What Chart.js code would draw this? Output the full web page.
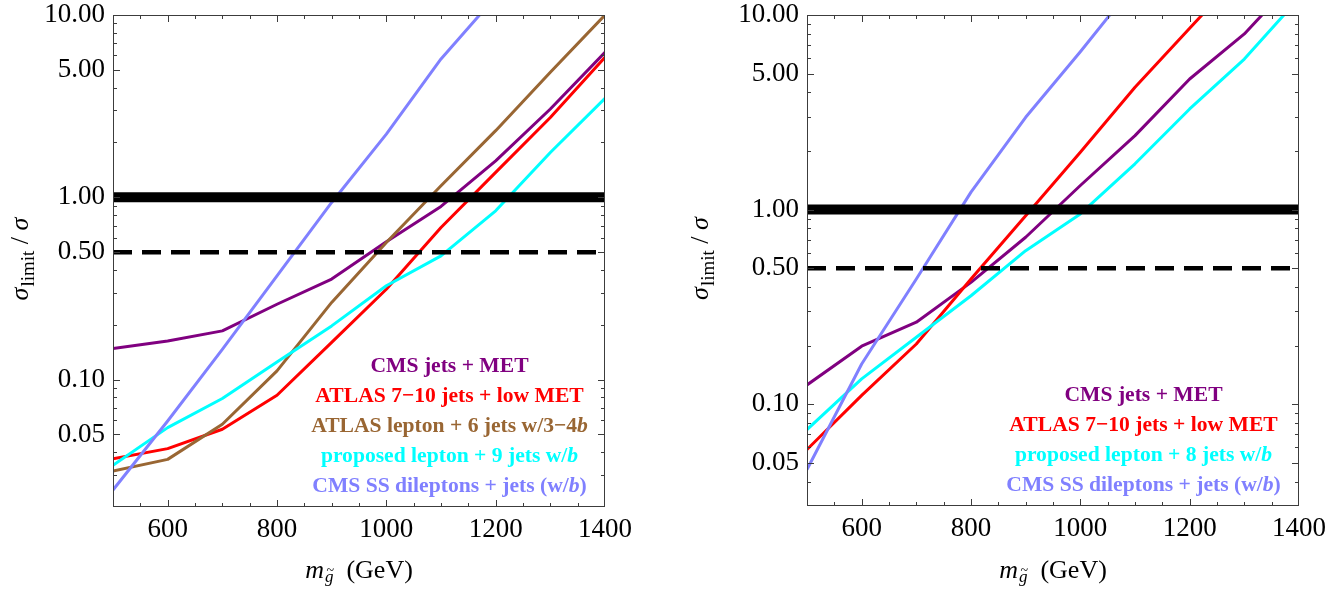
<!DOCTYPE html>
<html><head><meta charset="utf-8">
<script src="https://cdn.jsdelivr.net/npm/chart.js@4.4.1/dist/chart.umd.min.js"></script>
<style>
html,body{margin:0;padding:0;background:#fff;overflow:hidden}
#wrapL{position:absolute;left:0;top:0;width:680px;height:590px}
#wrapR{position:absolute;left:680px;top:0;width:661px;height:590px}
</style></head><body>
<div id="wrapL"><canvas id="cL" width="680" height="590"></canvas></div>
<div id="wrapR"><canvas id="cR" width="661" height="590"></canvas></div>
<script>
// ---------- data ----------
const massGeV = [500, 600, 700, 800, 900, 1000, 1100, 1200, 1300, 1400];

// left panel
const leftCmsJetsMet   = [0.148, 0.163, 0.185, 0.259, 0.356, 0.570, 0.891, 1.585, 3.05, 6.24];
const leftAtlas710     = [0.0368, 0.0418, 0.0534, 0.082, 0.160, 0.313, 0.683, 1.37, 2.74, 5.86];
const leftAtlasLepton  = [0.0315, 0.0365, 0.0569, 0.1116, 0.265, 0.565, 1.156, 2.32, 4.85, 10.0];
const leftProposed9    = [0.0339, 0.0545, 0.0787, 0.125, 0.197, 0.327, 0.477, 0.843, 1.76, 3.49];
const leftCmsSS        = [0.0248, 0.0593, 0.1466, 0.371, 0.937, 2.22, 5.74, 12.6];

// right panel
const rightCmsJetsMet  = [0.1257, 0.1986, 0.264, 0.423, 0.721, 1.33, 2.40, 4.69, 7.99, 16.0];
const rightAtlas710    = [0.0585, 0.111, 0.204, 0.440, 0.931, 1.97, 4.25, 8.54, 17.2];
const rightProposed8   = [0.0741, 0.135, 0.221, 0.361, 0.615, 0.950, 1.72, 3.29, 5.94, 12.2];
const rightCmsSS       = [0.0462, 0.161, 0.44, 1.23, 2.98, 6.48, 14.5];

// reference levels
const solidLevel = 1.0;
const dashedLevel = 0.5;

// axes
const xMin = 500, xMax = 1400;
const xLabelTicks = [600, 800, 1000, 1200, 1400];
const xMinorStep = 50;
const yMax = 10;
const yMinLeft = 0.02, yMinRight = 0.03;
const yLabelTicks = [0.05, 0.1, 0.5, 1, 5, 10];

// legend texts: [text, italic]
const legendLeft = [
  {color: '#800080', parts: [['CMS jets + MET', false]]},
  {color: '#ff0000', parts: [['ATLAS 7\u221210 jets + low MET', false]]},
  {color: '#996633', parts: [['ATLAS lepton + 6 jets w/3\u22124', false], ['b', true]]},
  {color: '#00ffff', parts: [['proposed lepton + 9 jets w/', false], ['b', true]]},
  {color: '#8080ff', parts: [['CMS SS dileptons + jets (w/', false], ['b', true], [')', false]]}
];
const legendRight = [
  {color: '#800080', parts: [['CMS jets + MET', false]]},
  {color: '#ff0000', parts: [['ATLAS 7\u221210 jets + low MET', false]]},
  {color: '#00ffff', parts: [['proposed lepton + 8 jets w/', false], ['b', true]]},
  {color: '#8080ff', parts: [['CMS SS dileptons + jets (w/', false], ['b', true], [')', false]]}
];

const SERIF = '"Liberation Serif", "Times New Roman", serif';

// ---------- plugins ----------
function yMinorValues(minV) {
  const out = [];
  for (let d = -3; d <= 1; d++) {
    for (let m = 1; m <= 9; m++) {
      const v = m * Math.pow(10, d);
      if (v > minV * 1.0001 && v < yMax * 0.9999) out.push(+v.toPrecision(3));
    }
  }
  return out;
}

const framePlugin = {
  id: 'frameTicks',
  afterDatasetsDraw(chart) {
    const {ctx, chartArea: a, scales: {x, y}} = chart;
    ctx.save();
    ctx.strokeStyle = '#3c3c3c';
    ctx.lineWidth = 1;
    ctx.beginPath();
    for (let v = xMin + xMinorStep; v < xMax; v += xMinorStep) {
      const px = Math.round(x.getPixelForValue(v)) + 0.5;
      const len = xLabelTicks.includes(v) ? 7 : 4;
      ctx.moveTo(px, a.bottom); ctx.lineTo(px, a.bottom - len);
      ctx.moveTo(px, a.top); ctx.lineTo(px, a.top + len);
    }
    yMinorValues(y.min).forEach(v => {
      const py = Math.round(y.getPixelForValue(v)) + 0.5;
      const major = yLabelTicks.some(t => Math.abs(t - v) < 1e-9);
      const len = major ? 7 : 4;
      ctx.moveTo(a.left, py); ctx.lineTo(a.left + len, py);
      ctx.moveTo(a.right, py); ctx.lineTo(a.right - len, py);
    });
    ctx.stroke();
    ctx.strokeRect(a.left + 0.5, a.top + 0.5, a.right - a.left - 1, a.bottom - a.top - 1);
    ctx.restore();
  }
};

const textPlugin = {
  id: 'texts',
  afterDraw(chart, args, opts) {
    const {ctx, chartArea: a} = chart;
    ctx.save();
    // legend
    const lines = opts.legend || [];
    const cx = a.left + 0.684 * (a.right - a.left);
    const step = 29.8;
    const lastBase = a.bottom - 15.5;
    lines.forEach((ln, i) => {
      const base = lastBase - (lines.length - 1 - i) * step;
      let w = 0;
      const fonts = ln.parts.map(p => (p[1] ? 'italic bold 21.6px ' : 'bold 21.6px ') + SERIF);
      ln.parts.forEach((p, k) => { ctx.font = fonts[k]; w += ctx.measureText(p[0]).width; });
      let xx = cx - w / 2;
      ctx.fillStyle = ln.color;
      ctx.textBaseline = 'alphabetic';
      ctx.textAlign = 'left';
      ln.parts.forEach((p, k) => { ctx.font = fonts[k]; ctx.fillText(p[0], xx, base); xx += ctx.measureText(p[0]).width; });
    });

    ctx.fillStyle = '#000';
    ctx.textBaseline = 'alphabetic';
    ctx.textAlign = 'left';
    // x title: m_{g~}  (GeV)
    const fMain = '26px ' + SERIF, fIt = 'italic 26px ' + SERIF, fSub = 'italic 17px ' + SERIF;
    ctx.font = fIt; const wm = ctx.measureText('m').width;
    ctx.font = fSub; const wg = ctx.measureText('g').width;
    ctx.font = fMain; const wgev = ctx.measureText('(GeV)').width;
    const gap = 13;
    const totalW = wm + 1 + wg + gap + wgev;
    let tx = (a.left + a.right) / 2 - totalW / 2;
    const tb = 578;
    ctx.font = fIt; ctx.fillText('m', tx, tb); tx += wm + 1;
    ctx.font = fSub; ctx.fillText('g', tx, tb + 4);
    ctx.font = '14px ' + SERIF; ctx.textAlign = 'center';
    ctx.fillText('~', tx + wg / 2 + 1, tb - 3);
    ctx.textAlign = 'left';
    tx += wg + gap;
    ctx.font = fMain; ctx.fillText('(GeV)', tx, tb);

    // y title: sigma_limit / sigma  (rotated)
    const ySub = '19px ' + SERIF;
    ctx.font = fIt; const ws = ctx.measureText('\u03C3').width;
    ctx.font = ySub; const wl = ctx.measureText('limit').width;
    ctx.font = fMain; const wsl = ctx.measureText(' / ').width;
    const tot = ws + 1 + wl + wsl + ws;
    ctx.translate(opts.yTitleX, (a.top + a.bottom) / 2 - 2);
    ctx.rotate(-Math.PI / 2);
    let sx = -tot / 2;
    ctx.font = fIt; ctx.fillText('\u03C3', sx, 0); sx += ws + 1;
    ctx.font = ySub; ctx.fillText('limit', sx, 6); sx += wl;
    ctx.font = fMain; ctx.fillText(' / ', sx, 0); sx += wsl;
    ctx.font = fIt; ctx.fillText('\u03C3', sx, 0);
    ctx.restore();
  }
};

// ---------- chart builder ----------
function buildChart(canvasId, series, yMin, legend, yAxisWidth, padRight, xAxisHeight, yTitleX) {
  const datasets = series.map((s, i) => ({
    data: s.values.map((v, k) => ({x: massGeV[k], y: v})),
    borderColor: s.color,
    borderWidth: 3,
    pointRadius: 0,
    fill: false,
    tension: 0,
    clip: 0,
    borderJoinStyle: 'round',
    order: 10 - i
  }));
  datasets.push({
    data: [{x: xMin, y: solidLevel}, {x: xMax, y: solidLevel}],
    borderColor: '#000', borderWidth: 10, pointRadius: 0, clip: 0, order: 0
  });
  datasets.push({
    data: [{x: xMin, y: dashedLevel}, {x: xMax, y: dashedLevel}],
    borderColor: '#000', borderWidth: 4.5, borderDash: [19, 10], pointRadius: 0, clip: 0, order: 0
  });
  return new Chart(document.getElementById(canvasId), {
    type: 'line',
    data: {datasets},
    options: {
      responsive: false,
      animation: false,
      events: [],
      layout: {padding: {left: 0, top: 15, right: padRight, bottom: 0}},
      plugins: {
        legend: {display: false},
        tooltip: {enabled: false},
        texts: {legend, yTitleX}
      },
      scales: {
        x: {
          type: 'linear', min: xMin, max: xMax,
          grid: {display: false, drawTicks: false},
          border: {display: false},
          afterBuildTicks: sc => { sc.ticks = xLabelTicks.map(v => ({value: v})); },
          afterFit: sc => { sc.height = xAxisHeight; sc.paddingLeft = 0; sc.paddingRight = 0; },
          ticks: {
            color: '#000', padding: 7, maxRotation: 0, autoSkip: false,
            font: {family: SERIF, size: 27},
            callback: v => String(v)
          }
        },
        y: {
          type: 'logarithmic', min: yMin, max: yMax,
          grid: {display: false, drawTicks: false},
          border: {display: false},
          afterBuildTicks: sc => { sc.ticks = yLabelTicks.map(v => ({value: v})); },
          afterFit: sc => { sc.width = yAxisWidth; sc.paddingTop = 0; sc.paddingBottom = 0; },
          ticks: {
            color: '#000', padding: 8, autoSkip: false,
            font: {family: SERIF, size: 27},
            callback: v => Number(v).toFixed(2)
          }
        }
      }
    },
    plugins: [framePlugin, textPlugin]
  });
}

buildChart('cL', [
  {values: leftCmsJetsMet, color: '#800080'},
  {values: leftAtlas710, color: '#ff0000'},
  {values: leftAtlasLepton, color: '#996633'},
  {values: leftProposed9, color: '#00ffff'},
  {values: leftCmsSS, color: '#8080ff'}
], yMinLeft, legendLeft, 113, 75, 83, 28);

buildChart('cR', [
  {values: rightCmsJetsMet, color: '#800080'},
  {values: rightAtlas710, color: '#ff0000'},
  {values: rightProposed8, color: '#00ffff'},
  {values: rightCmsSS, color: '#8080ff'}
], yMinRight, legendRight, 127, 42, 84, 28);
</script>
</body></html>
